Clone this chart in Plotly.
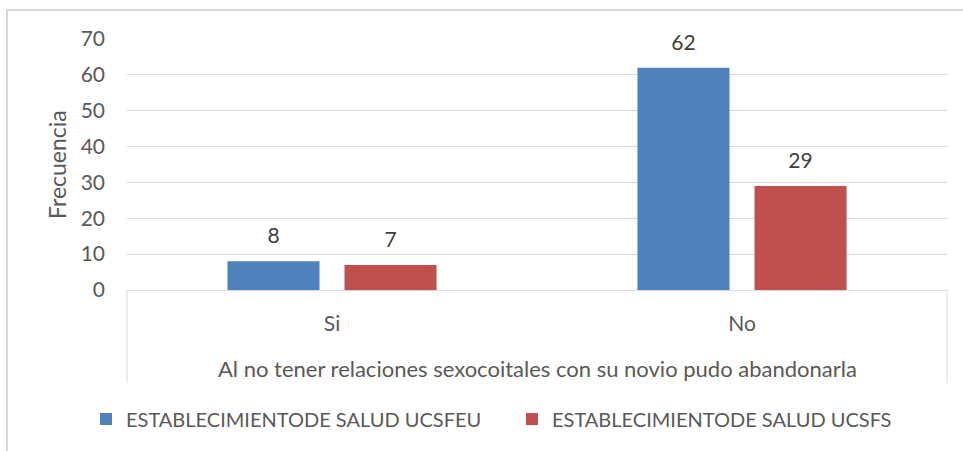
import plotly.graph_objects as go

categories = ["Si", "No"]
series_names = ["ESTABLECIMIENTODE SALUD UCSFEU", "ESTABLECIMIENTODE SALUD UCSFS"]
values_ucsfeu = [8, 62]
values_ucsfs = [7, 29]
y_ticks = [0, 10, 20, 30, 40, 50, 60, 70]
x_title = "Al no tener relaciones sexocoitales con su novio pudo abandonarla"
y_title = "Frecuencia"

FONT = "Lato"
TXT = "#595959"

W, H = 963, 451
L, R, T, B = 127, 947, 39, 290
pw, ph = R - L, B - T

def px_x(px):
    return (px - L) / pw

def px_y(py):
    return (B - py) / ph

fig = go.Figure()
colors = ["#4f81bd", "#c0504d"]
for i, (name, vals, col) in enumerate(zip(series_names, [values_ucsfeu, values_ucsfs], colors)):
    fig.add_trace(go.Bar(
        x=categories, y=vals, name=name,
        marker=dict(color=col, line=dict(width=0)),
        offsetgroup=str(i), hoverinfo="skip",
    ))
for i, vals in enumerate([values_ucsfeu, values_ucsfs]):
    fig.add_trace(go.Scatter(
        x=categories, y=vals, mode="markers+text",
        text=[str(v) for v in vals], textposition="top center",
        textfont=dict(family=FONT, size=21, color="#404040"),
        marker=dict(size=19, color="rgba(0,0,0,0)"),
        offsetgroup=str(i), showlegend=False, hoverinfo="skip", cliponaxis=False,
    ))

fig.update_layout(
    width=W, height=H,
    margin=dict(l=L, r=W - R, t=T, b=H - B, pad=0),
    paper_bgcolor="white", plot_bgcolor="white",
    barmode="group", bargap=0.429, bargroupgap=0.2137,
    scattermode="group", scattergap=0.429,
    font=dict(family=FONT, size=21, color=TXT),
    showlegend=True,
    legend=dict(orientation="h", x=px_x(86), xanchor="left", y=px_y(419), yanchor="middle",
                font=dict(family=FONT, size=20, color=TXT),
                entrywidth=381, entrywidthmode="pixels",
                bgcolor="rgba(0,0,0,0)", itemclick=False),
    xaxis=dict(showgrid=False, showline=True, linecolor="#d9d9d9", linewidth=1,
               ticks="", ticklabelstandoff=15, tickfont=dict(family=FONT, size=21, color=TXT),
               zeroline=False, fixedrange=True),
    yaxis=dict(range=[0, 70], tickvals=y_ticks, showgrid=True, gridcolor="#d9d9d9", gridwidth=1,
               showline=False, zeroline=False, ticks="", ticklabelstandoff=21,
               tickfont=dict(family=FONT, size=21, color=TXT), fixedrange=True),
    annotations=[
        dict(text=x_title, xref="paper", yref="paper", x=px_x(537), y=px_y(368),
             xanchor="center", yanchor="middle", showarrow=False,
             font=dict(family=FONT, size=22, color=TXT)),
        dict(text=y_title, xref="paper", yref="paper", x=px_x(57), y=px_y(165),
             xanchor="center", yanchor="middle", showarrow=False, textangle=-90,
             font=dict(family=FONT, size=23, color=TXT)),
    ],
    shapes=[
        dict(type="line", xref="paper", yref="paper", x0=0, x1=0, y0=0, y1=px_y(383),
             line=dict(color="#d9d9d9", width=1)),
        dict(type="line", xref="paper", yref="paper", x0=1, x1=1, y0=0, y1=px_y(383),
             line=dict(color="#d9d9d9", width=1)),
        dict(type="rect", xref="paper", yref="paper", x0=px_x(7), x1=px_x(975),
             y0=px_y(470), y1=px_y(10), line=dict(color="#d9d9d9", width=2),
             fillcolor="rgba(0,0,0,0)", layer="below"),
    ],
)

fig.write_html("out.html", config={"displayModeBar": False},
               post_script="document.body.style.margin='0';document.body.style.padding='0';")
